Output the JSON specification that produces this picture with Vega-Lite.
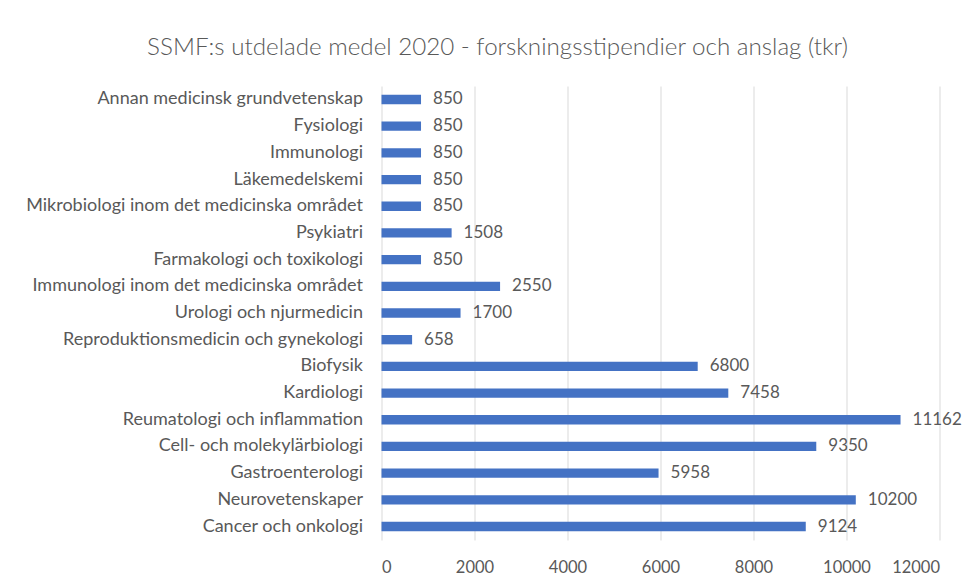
{
  "$schema": "https://vega.github.io/schema/vega-lite/v6.json",
  "width": 558,
  "height": 454,
  "autosize": "none",
  "padding": {"left": 381.5, "top": 86, "right": 35.5, "bottom": 42},
  "background": "white",
  "title": {
    "text": "SSMF:s utdelade medel 2020 - forskningsstipendier och anslag (tkr)",
    "font": "Lato",
    "fontSize": 24.2,
    "fontWeight": 300,
    "color": "#595959",
    "anchor": "middle",
    "frame": "group",
    "dx": -163,
    "offset": 26
  },
  "data": {
    "values": [
      {"kategori": "Annan medicinsk grundvetenskap", "tkr": 850},
      {"kategori": "Fysiologi", "tkr": 850},
      {"kategori": "Immunologi", "tkr": 850},
      {"kategori": "Läkemedelskemi", "tkr": 850},
      {"kategori": "Mikrobiologi inom det medicinska området", "tkr": 850},
      {"kategori": "Psykiatri", "tkr": 1508},
      {"kategori": "Farmakologi och toxikologi", "tkr": 850},
      {"kategori": "Immunologi inom det medicinska området", "tkr": 2550},
      {"kategori": "Urologi och njurmedicin", "tkr": 1700},
      {"kategori": "Reproduktionsmedicin och gynekologi", "tkr": 658},
      {"kategori": "Biofysik", "tkr": 6800},
      {"kategori": "Kardiologi", "tkr": 7458},
      {"kategori": "Reumatologi och inflammation", "tkr": 11162},
      {"kategori": "Cell- och molekylärbiologi", "tkr": 9350},
      {"kategori": "Gastroenterologi", "tkr": 5958},
      {"kategori": "Neurovetenskaper", "tkr": 10200},
      {"kategori": "Cancer och onkologi", "tkr": 9124}
    ]
  },
  "encoding": {
    "y": {
      "field": "kategori",
      "type": "nominal",
      "sort": null,
      "scale": {"paddingInner": 0.65, "paddingOuter": 0.33},
      "axis": {
        "title": null,
        "ticks": false,
        "domain": false,
        "labelFont": "Lato",
        "labelFontSize": 18,
        "labelColor": "#595959",
        "labelPadding": 19,
        "labelLimit": 400
      }
    },
    "x": {
      "field": "tkr",
      "type": "quantitative",
      "scale": {"domain": [0, 12000], "nice": false},
      "axis": {
        "title": null,
        "values": [0, 2000, 4000, 6000, 8000, 10000, 12000],
        "format": "d",
        "ticks": false,
        "domain": false,
        "grid": true,
        "gridColor": "#d9d9d9",
        "gridWidth": 1,
        "labelFont": "Lato",
        "labelFontSize": 16.5,
        "labelColor": "#595959",
        "labelPadding": 19
      }
    }
  },
  "layer": [
    {"mark": {"type": "bar", "color": "#4472C4"}},
    {
      "mark": {"type": "text", "align": "left", "baseline": "middle", "dx": 12, "font": "Lato", "fontSize": 17, "color": "#595959"},
      "encoding": {"text": {"field": "tkr", "type": "quantitative", "format": "d"}}
    }
  ],
  "config": {"view": {"stroke": null}}
}
